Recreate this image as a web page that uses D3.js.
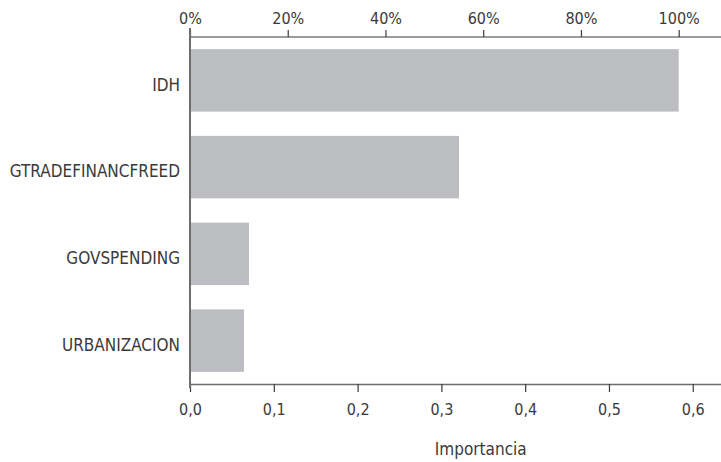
<!DOCTYPE html>
<html>
<head>
<meta charset="utf-8">
<script src="https://cdn.jsdelivr.net/npm/d3@7"></script>
<style>
  body { margin: 0; background: #fff; }
  text { font-family: "Liberation Sans Narrow", "DejaVu Sans Condensed", sans-serif; fill: #3a3a3a; }
</style>
</head>
<body>
<svg id="chart" width="721" height="462"></svg>
<script>
var variables = ["IDH", "GTRADEFINANCFREED", "GOVSPENDING", "URBANIZACION"];
var importancia = [0.5832, 0.321, 0.0704, 0.0644];
var importanciaTicks = [0, 0.1, 0.2, 0.3, 0.4, 0.5, 0.6];
var pctTicks = [0, 20, 40, 60, 80, 100];
var axisTitle = "Importancia";

var margin = {top: 37, right: 0, bottom: 78, left: 190},
    width = 721 - margin.left - margin.right,
    height = 462 - margin.top - margin.bottom;

var svg = d3.select("#chart")
  .append("g")
    .attr("transform", "translate(" + margin.left + "," + margin.top + ")");

var xScale = d3.scaleLinear()
    .domain([0, 0.6337])
    .range([0, width]);

// top axis: importance normalised to the largest variable
var maxVal = d3.max(importancia);
var pctScale = d3.scaleLinear()
    .domain([0, 100])
    .range([0, xScale(maxVal)]);

var yScale = d3.scaleBand()
    .domain(variables)
    .range([0, height])
    .paddingInner(0.28)
    .paddingOuter(0.14);

var commaFmt = function(d){ return d3.format(".1f")(d).replace(".", ","); };

// bars
svg.selectAll(".bar")
  .data(variables)
  .enter()
  .append("rect")
    .attr("class", "bar")
    .attr("x", xScale(0))
    .attr("y", function(d){ return yScale(d); })
    .attr("width", function(d, i){ return xScale(importancia[i]) - xScale(0); })
    .attr("height", yScale.bandwidth())
    .attr("fill", "#bcbdc1");

// bottom axis
var xAxis = d3.axisBottom(xScale)
    .tickValues(importanciaTicks)
    .tickFormat(commaFmt)
    .tickSizeInner(8)
    .tickSizeOuter(0)
    .tickPadding(12);

var gx = svg.append("g")
    .attr("transform", "translate(0," + height + ")")
    .call(xAxis);
gx.select(".domain").attr("stroke", "#6e6e6e").attr("stroke-width", 1.6);
gx.selectAll(".tick line").attr("stroke", "#3a3a3a").attr("stroke-width", 1.2);
gx.selectAll(".tick text").style("font-size", "16px");

// top axis
var pAxis = d3.axisTop(pctScale)
    .tickValues(pctTicks)
    .tickFormat(function(d){ return d + "%"; })
    .tickSizeInner(7)
    .tickSizeOuter(0)
    .tickPadding(6);

var gp = svg.append("g").call(pAxis);
gp.select(".domain").attr("d", "M0,0H" + width).attr("stroke", "#3a3a3a").attr("stroke-width", 1.2);
gp.selectAll(".tick line").attr("stroke", "#3a3a3a").attr("stroke-width", 1.2);
gp.selectAll(".tick text").style("font-size", "16px");

// left axis (labels only)
var yAxis = d3.axisLeft(yScale)
    .tickSize(0)
    .tickPadding(10);

var gy = svg.append("g").call(yAxis);
gy.select(".domain").attr("d", "M0,-9V" + (height + 4)).attr("stroke", "#6e6e6e").attr("stroke-width", 2);
gy.selectAll(".tick text").style("font-size", "17px").attr("dy", "0.6em");

svg.selectAll(".domain").attr("fill", "none");

svg.append("text")
    .attr("x", xScale(0.347))
    .attr("y", height + 71)
    .attr("text-anchor", "middle")
    .style("font-size", "17px")
    .text(axisTitle);
</script>
</body>
</html>
